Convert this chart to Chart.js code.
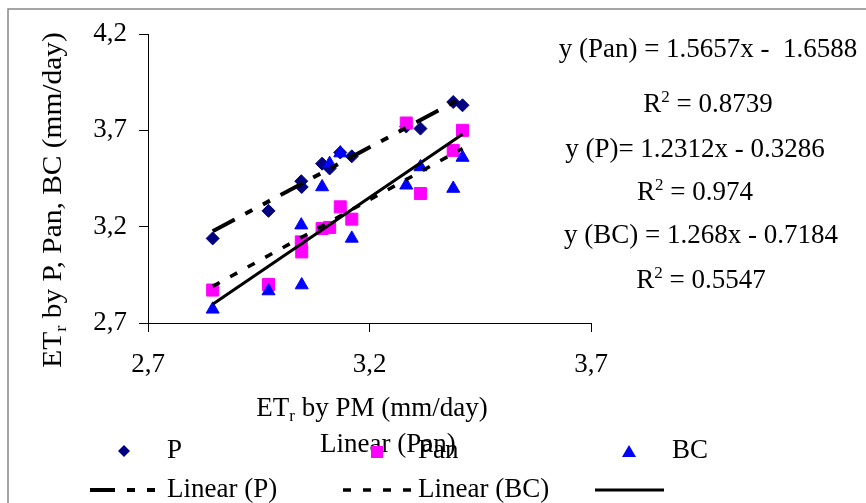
<!DOCTYPE html>
<html>
<head>
<meta charset="utf-8">
<script src="https://cdn.jsdelivr.net/npm/chart.js@4.4.0/dist/chart.umd.min.js"></script>
<style>
    html, body { margin: 0; padding: 0; background: #fff; }
    #contenedor { position: relative; width: 866px; height: 503px; }
</style>
</head>
<body>
<div id="contenedor"><canvas id="grafico-et"></canvas></div>
<script>
// Marcas de los ejes
const xTicks = [2.7, 3.2, 3.7];
const yTicks = [2.7, 3.2, 3.7, 4.2];

// ETr por Penman-Monteith (eje x)
const etPM = [2.846, 2.972, 3.046, 3.047, 3.093, 3.110, 3.134, 3.160, 3.283, 3.315, 3.389, 3.410];
// ETr por los otros métodos (eje y)
const etP = [3.139, 3.282, 3.436, 3.406, 3.527, 3.502, 3.585, 3.565, 3.720, 3.709, 3.847, 3.830];
const etPan = [2.871, 2.900, 3.121, 3.069, 3.190, 3.196, 3.303, 3.239, 3.738, 3.372, 3.596, 3.700];
const etBC = [2.771, 2.866, 3.208, 2.897, 3.406, 3.527, 3.582, 3.139, 3.415, 3.510, 3.398, 3.559];

// Extremos de las lineas de tendencia
const tendX = [2.846, 3.410];
const tendP = [3.176, 3.870];
const tendPan = [2.797, 3.680];
const tendBC = [2.890, 3.606];

// Textos de las ecuaciones: [ecuacion, R2, centro x, base ecuacion, base R2]
const ecuaciones = [
    ['y (Pan) = 1.5657x -  1.6588', '0.8739', 708, 57, 112],
    ['y (P)= 1.2312x - 0.3286', '0.974', 695, 157, 200],
    ['y (BC) = 1.268x - 0.7184', '0.5547', 701, 243, 288]
];

const FUENTE = '"Liberation Serif", "Times New Roman", serif';
const TAM = 27;

function puntos(ys) {
    return etPM.map((x, i) => ({ x: x, y: ys[i] }));
}
function linea(ys) {
    return tendX.map((x, i) => ({ x: x, y: ys[i] }));
}

// Dibuja texto con partes en subindice / superindice
function textoPartes(ctx, partes, x, y, align) {
    let ancho = 0;
    partes.forEach(p => {
        ctx.font = (p.sub || p.sup ? 17 : TAM) + 'px ' + FUENTE;
        p.w = ctx.measureText(p.t).width;
        ancho += p.w;
    });
    let cx = align === 'center' ? x - ancho / 2 : x;
    partes.forEach(p => {
        ctx.font = (p.sub || p.sup ? 17 : TAM) + 'px ' + FUENTE;
        let dy = p.sub ? 5 : (p.sup ? -10 : 0);
        ctx.fillText(p.t, cx, y + dy);
        cx += p.w;
    });
}

const textosPlugin = {
    id: 'textos',
    afterDraw(chart) {
        const ctx = chart.ctx;
        ctx.save();
        ctx.fillStyle = '#000';
        ctx.textBaseline = 'alphabetic';
        ctx.textAlign = 'left';

        // titulo eje x
        textoPartes(ctx, [{ t: 'ET' }, { t: 'r', sub: true }, { t: ' by PM (mm/day)' }], 372, 416, 'center');

        // titulo eje y (algo estirado a lo largo, como en el original)
        ctx.save();
        ctx.translate(61, 200);
        ctx.rotate(-Math.PI / 2);
        ctx.scale(1.09, 1);
        textoPartes(ctx, [{ t: 'ET' }, { t: 'r', sub: true }, { t: ' by P, Pan, BC (mm/day)' }], 0, 0, 'center');
        ctx.restore();

        // ecuaciones
        ecuaciones.forEach(e => {
            textoPartes(ctx, [{ t: e[0] }], e[2], e[3], 'center');
            textoPartes(ctx, [{ t: 'R' }, { t: '2', sup: true }, { t: ' = ' + e[1] }], e[2], e[4], 'center');
        });

        // leyenda
        ctx.font = TAM + 'px ' + FUENTE;
        ctx.fillStyle = '#000080';
        ctx.beginPath();
        ctx.moveTo(118, 451); ctx.lineTo(124, 445); ctx.lineTo(130, 451); ctx.lineTo(124, 457);
        ctx.closePath(); ctx.fill();
        ctx.fillStyle = '#000';
        ctx.fillText('P', 167, 458);

        ctx.fillText('Linear (Pan)', 320, 452);
        ctx.fillStyle = '#FF00FF';
        ctx.fillRect(371, 446, 12, 12);
        ctx.fillStyle = '#000';
        ctx.fillText('Pan', 418, 458);

        ctx.fillStyle = '#0000FF';
        ctx.beginPath();
        ctx.moveTo(629, 445); ctx.lineTo(636, 457); ctx.lineTo(622, 457);
        ctx.closePath(); ctx.fill();
        ctx.fillStyle = '#000';
        ctx.fillText('BC', 672, 458);

        ctx.strokeStyle = '#000';
        ctx.lineWidth = 4;
        ctx.setLineDash([25, 12, 8, 12, 8, 12]);
        ctx.beginPath(); ctx.moveTo(90, 490); ctx.lineTo(166, 490); ctx.stroke();
        ctx.fillText('Linear (P)', 167, 497);

        ctx.lineWidth = 3.5;
        ctx.setLineDash([8, 12]);
        ctx.beginPath(); ctx.moveTo(343, 490); ctx.lineTo(418, 490); ctx.stroke();
        ctx.fillText('Linear (BC)', 418, 497);

        ctx.lineWidth = 3;
        ctx.setLineDash([]);
        ctx.beginPath(); ctx.moveTo(595, 490); ctx.lineTo(664, 490); ctx.stroke();

        // marco del grafico
        ctx.strokeStyle = '#888';
        ctx.lineWidth = 1.5;
        ctx.strokeRect(8, 9, 900, 600);
        ctx.restore();
    }
};

const ctx = document.getElementById('grafico-et').getContext('2d');
new Chart(ctx, {
    type: 'scatter',
    data: {
        datasets: [
            {
                type: 'line', label: 'Linear (P)', data: linea(tendP),
                borderColor: '#000', borderWidth: 4, borderDash: [25, 12, 8, 12, 8, 12],
                pointRadius: 0, fill: false, order: 0
            },
            {
                type: 'line', label: 'Linear (BC)', data: linea(tendBC),
                borderColor: '#000', borderWidth: 3.5, borderDash: [8, 12],
                pointRadius: 0, fill: false, order: 0
            },
            {
                type: 'line', label: 'Linear (Pan)', data: linea(tendPan),
                borderColor: '#000', borderWidth: 3,
                pointRadius: 0, fill: false, order: 0
            },
            {
                label: 'BC', data: puntos(etBC), pointStyle: 'triangle', pointRadius: 7.5,
                backgroundColor: '#0000FF', borderColor: '#0000FF', borderWidth: 1, order: 1
            },
            {
                label: 'Pan', data: puntos(etPan), pointStyle: 'rect', pointRadius: 8.5,
                backgroundColor: '#FF00FF', borderColor: '#FF00FF', borderWidth: 1, order: 2
            },
            {
                label: 'P', data: puntos(etP), pointStyle: 'rectRot', pointRadius: 6.5,
                backgroundColor: '#000080', borderColor: '#000080', borderWidth: 1, order: 3
            }
        ]
    },
    options: {
        responsive: true,
        maintainAspectRatio: false,
        animation: false,
        layout: { padding: { left: 0, top: 34, right: 275, bottom: 0 } },
        plugins: {
            legend: { display: false },
            tooltip: { enabled: false }
        },
        scales: {
            x: {
                type: 'linear',
                min: 2.7, max: 3.7,
                afterBuildTicks: (scale) => { scale.ticks = xTicks.map(v => ({ value: v })); },
                afterFit: (scale) => { scale.height = 180; },
                grid: { drawOnChartArea: false, drawTicks: true, tickLength: 9, color: '#000' },
                border: { display: true, color: '#000', width: 1 },
                ticks: {
                    color: '#000', padding: 17, maxRotation: 0,
                    font: { family: FUENTE, size: TAM },
                    callback: (v) => v.toFixed(1).replace('.', ',')
                }
            },
            y: {
                type: 'linear',
                min: 2.7, max: 4.2,
                afterBuildTicks: (scale) => { scale.ticks = yTicks.map(v => ({ value: v })); },
                afterFit: (scale) => { scale.width = 148; },
                grid: { drawOnChartArea: false, drawTicks: true, tickLength: 9, color: '#000' },
                border: { display: true, color: '#000', width: 1 },
                ticks: {
                    color: '#000', padding: 12,
                    font: { family: FUENTE, size: TAM },
                    callback: (v) => v.toFixed(1).replace('.', ',')
                }
            }
        }
    },
    plugins: [textosPlugin]
});
</script>
</body>
</html>
